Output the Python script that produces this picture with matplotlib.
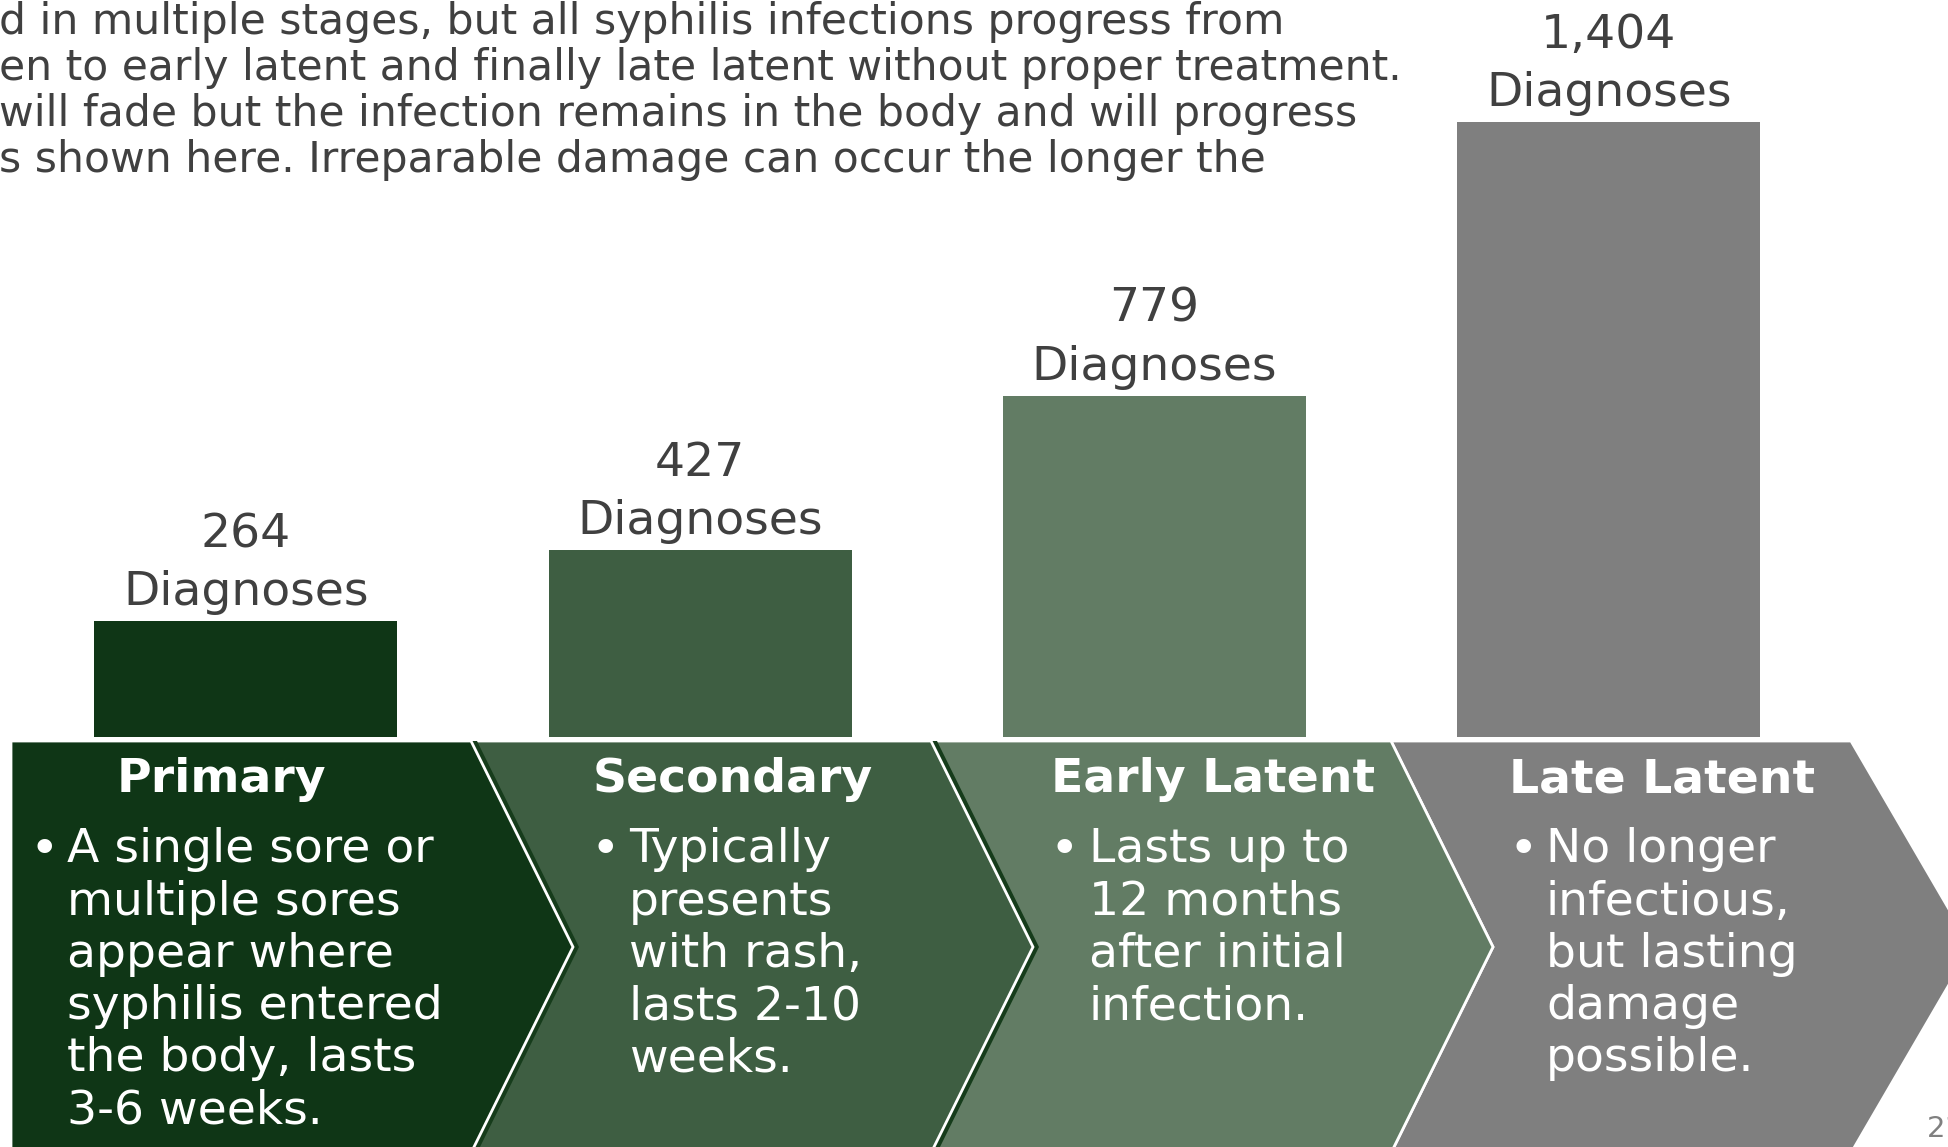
import numpy as np
import matplotlib.pyplot as plt
from matplotlib.patches import Polygon

# data
stages = ["Primary", "Secondary", "Early Latent", "Late Latent"]
diagnoses = [264, 427, 779, 1404]
stage_colors = ["#0f3616", "#3e5e42", "#627c64", "#7f7f7f"]
descriptions = [
    ["A single sore or", "multiple sores", "appear where", "syphilis entered",
     "the body, lasts", "3-6 weeks."],
    ["Typically", "presents", "with rash,", "lasts 2-10", "weeks."],
    ["Lasts up to", "12 months", "after initial", "infection."],
    ["No longer", "infectious,", "but lasting", "damage", "possible."],
]
intro_lines = [
    "d in multiple stages, but all syphilis infections progress from",
    "en to early latent and finally late latent without proper treatment.",
    "will fade but the infection remains in the body and will progress",
    "s shown here. Irreparable damage can occur the longer the",
]
page_number = "21"

W, H = 1949, 1147
text_gray = "#404040"

fig = plt.figure(figsize=(W / 100, H / 100), dpi=100)

# background axes in pixel coordinates
bg = fig.add_axes([0, 0, 1, 1])
bg.set_xlim(0, W)
bg.set_ylim(H, 0)
bg.axis("off")

# intro paragraph (clipped at the left edge)
for i, line in enumerate(intro_lines):
    bg.text(-1, 22 + 46 * i, line, fontsize=30.6, color=text_gray,
            ha="left", va="center")

# chevrons
step, body = 460, 460
top, bottom = 741, 1153
mid = (top + bottom) / 2
header_x = [221, 733, 1213, 1662]
bullet_x = [44, 605, 1064, 1523]
text_x = [67, 629, 1089, 1546]
for i, (name, col, lines) in enumerate(zip(stages, stage_colors, descriptions)):
    x0 = 11 + step * i
    tip = 120 if i == 3 else 102
    notch = 0 if i == 0 else 102
    pts = [(x0, top), (x0 + body, top), (x0 + body + tip, mid),
           (x0 + body, bottom), (x0, bottom), (x0 + notch, mid)]
    if i in (0, 1):
        shadow = Polygon([(x + 6, y) for x, y in pts], closed=True,
                         facecolor="#163c1b", edgecolor="none", zorder=1 + 3 * (3 - i))
        bg.add_patch(shadow)
    poly = Polygon(pts, closed=True, facecolor=col, edgecolor="white",
                   linewidth=2, zorder=2 + 3 * (3 - i))
    bg.add_patch(poly)

    bg.text(header_x[i], 780, name, fontsize=34, fontweight="bold", color="white",
            ha="center", va="center", zorder=20)
    bg.text(bullet_x[i], 850, "\u2022", fontsize=36, color="white",
            ha="center", va="center", zorder=20)
    for j, line in enumerate(lines):
        bg.text(text_x[i], 850 + 52.2 * j, line, fontsize=34, color="white",
                ha="left", va="center", zorder=20)

bg.text(1927, 1129, page_number, fontsize=21, color="#808080",
        ha="left", va="center")

# bars
base_px, top_px = 737, 122
bax = fig.add_axes([0, (H - base_px) / H, 1, (base_px - top_px) / H])
bax.set_xlim(0, W)
bax.set_ylim(0, max(diagnoses))
bax.axis("off")
centers = 246 + 454.3 * np.arange(len(diagnoses))
bax.bar(centers, diagnoses, width=303, color=stage_colors)
for x, v in zip(centers, diagnoses):
    bax.annotate(f"{v:,}", (x, v), xytext=(0, 62.5), textcoords="offset points",
                 ha="center", va="center", fontsize=34, color=text_gray)
    bax.annotate("Diagnoses", (x, v), xytext=(0, 20.5), textcoords="offset points",
                 ha="center", va="center", fontsize=34, color=text_gray)

fig.savefig("out.png", dpi=100)
